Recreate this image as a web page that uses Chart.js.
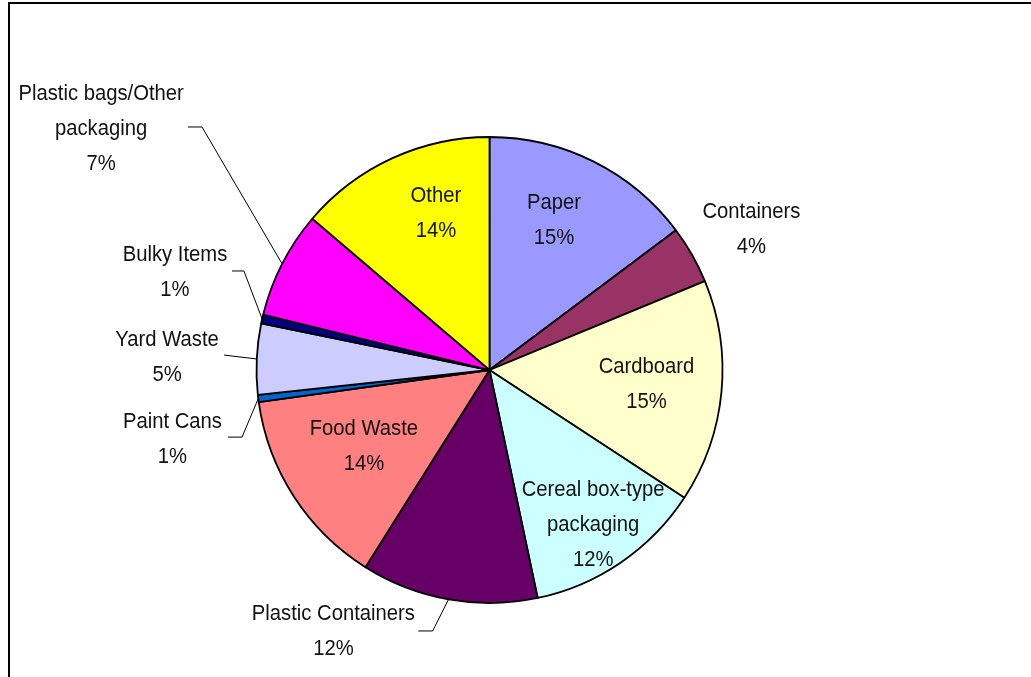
<!DOCTYPE html>
<html>
<head>
<meta charset="utf-8">
<script src="https://cdn.jsdelivr.net/npm/chart.js@4/dist/chart.umd.min.js"></script>
<style>
  html, body { margin: 0; padding: 0; background: #fff; }
  #wrap { position: relative; width: 1031px; height: 677px; }
</style>
</head>
<body>
<div id="wrap"><canvas id="c" width="1031" height="677"></canvas></div>
<script>
// Waste composition, percent of total
const categories = [
  'Paper', 'Containers', 'Cardboard', 'Cereal box-type packaging',
  'Plastic Containers', 'Food Waste', 'Paint Cans', 'Yard Waste',
  'Bulky Items', 'Plastic bags/Other packaging', 'Other'
];
const shares = [14.7, 4.0, 15.4, 12.4, 12.2, 13.8, 0.5, 4.9, 0.6, 7.4, 13.7];
const percentLabels = ['15%', '4%', '15%', '12%', '12%', '14%', '1%', '5%', '1%', '7%', '14%'];
const labelLines = [
  ['Paper'], ['Containers'], ['Cardboard'], ['Cereal box-type', 'packaging'],
  ['Plastic Containers'], ['Food Waste'], ['Paint Cans'], ['Yard Waste'],
  ['Bulky Items'], ['Plastic bags/Other', 'packaging'], ['Other']
];

const sliceColors = ['#9999FF', '#993366', '#FFFFCC', '#CCFFFF', '#660066', '#FF8080',
                     '#0066CC', '#CCCCFF', '#000080', '#FF00FF', '#FFFF00'];

// Label block centres, in units of the pie radius from its centre
const labelPos = [
  [0.277, -0.640], [1.124, -0.605], [0.674, 0.064], [0.445, 0.667],
  [-0.670, 1.124], [-0.539, 0.326], [-1.361, 0.296], [-1.384, -0.056],
  [-1.350, -0.417], [-1.667, -1.033], [-0.230, -0.670]
];
// Leader lines: [elbow, end] in radius units; null = no leader
const leaders = [
  null, null, null, null,
  [[-0.244, 1.120], [-0.306, 1.120]],
  null,
  [[-1.062, 0.288], [-1.122, 0.288]],
  [[-1.139, -0.064], [-1.139, -0.064]],
  [[-1.054, -0.425], [-1.105, -0.425]],
  [[-1.234, -1.043], [-1.294, -1.043]],
  null
];

const FONT = '22px "Liberation Sans", Arial, sans-serif';
const TEXT_SQUEEZE = 0.92;
const LINE_H = 35;

const framePlugin = {
  id: 'frame',
  beforeDraw(chart) {
    const ctx = chart.ctx;
    ctx.save();
    ctx.fillStyle = '#fff';
    ctx.fillRect(0, 0, chart.width, chart.height);
    ctx.strokeStyle = '#000';
    ctx.lineWidth = 2;
    ctx.strokeRect(9, 3, chart.width + 20, chart.height + 20);
    ctx.restore();
  }
};

function drawText(ctx, t, x, y) {
  ctx.save();
  ctx.translate(x, y);
  ctx.scale(TEXT_SQUEEZE, 1);
  ctx.fillText(t, 0, 0);
  ctx.restore();
}

const labelPlugin = {
  id: 'sliceLabels',
  afterDatasetsDraw(chart) {
    const ctx = chart.ctx;
    const arcs = chart.getDatasetMeta(0).data;
    ctx.save();
    ctx.font = FONT;
    ctx.fillStyle = '#111';
    ctx.textAlign = 'center';
    ctx.textBaseline = 'middle';
    arcs.forEach((arc, i) => {
      const cx = arc.x, cy = arc.y, r = arc.outerRadius;
      const lines = labelLines[i].concat([percentLabels[i]]);
      const bx = cx + labelPos[i][0] * r;
      const by = cy + labelPos[i][1] * r;
      const top = by - (lines.length - 1) * LINE_H / 2;
      lines.forEach((t, k) => drawText(ctx, t, bx, top + k * LINE_H));
      const ld = leaders[i];
      if (ld) {
        const mid = (arc.startAngle + arc.endAngle) / 2;
        const ax = cx + Math.cos(mid) * r;
        const ay = cy + Math.sin(mid) * r;
        ctx.beginPath();
        ctx.strokeStyle = '#000';
        ctx.lineWidth = 1;
        ctx.moveTo(ax, ay);
        ctx.lineTo(cx + ld[0][0] * r, cy + ld[0][1] * r);
        ctx.lineTo(cx + ld[1][0] * r, cy + ld[1][1] * r);
        ctx.stroke();
      }
    });
    ctx.restore();
  }
};

new Chart(document.getElementById('c'), {
  type: 'pie',
  data: {
    labels: categories,
    datasets: [{
      data: shares,
      backgroundColor: sliceColors,
      borderColor: '#000',
      borderWidth: 1.8
    }]
  },
  options: {
    responsive: false,
    animation: false,
    radius: 233,
    layout: { padding: { left: 0, right: 52, top: 63, bottom: 0 } },
    plugins: {
      legend: { display: false },
      tooltip: { enabled: false }
    }
  },
  plugins: [framePlugin, labelPlugin]
});
</script>
</body>
</html>
